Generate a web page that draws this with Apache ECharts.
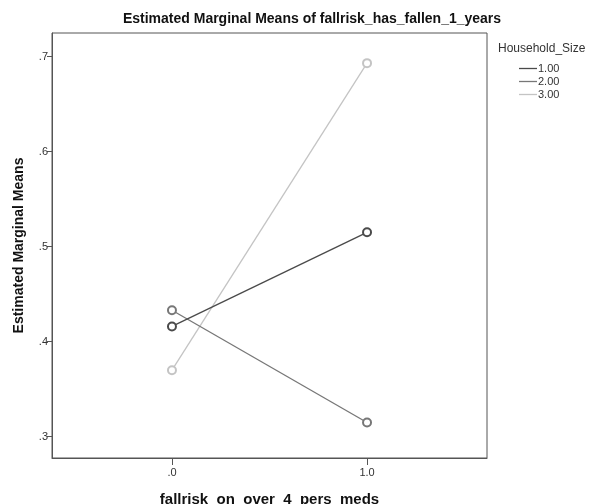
<!DOCTYPE html>
<html>
<head>
<meta charset="utf-8">
<script src="https://cdn.jsdelivr.net/npm/echarts@6/dist/echarts.min.js"></script>
<style>
  html, body { margin: 0; padding: 0; background: #fff; }
  #chart { width: 592px; height: 504px; }
</style>
</head>
<body>
<div id="chart"></div>
<script>
// Estimated marginal means by medication group and household size
const xValues = [0, 1];
const xTickLabels = ['.0', '1.0'];
const yTicks = [0.3, 0.4, 0.5, 0.6, 0.7];
const seriesNames = ['1.00', '2.00', '3.00'];
const size1 = [0.416, 0.515];
const size2 = [0.433, 0.315];
const size3 = [0.370, 0.693];
const seriesValues = [size1, size2, size3];
const seriesColors = ['#4a4a4a', '#777777', '#c4c4c4'];

const fontFamily = 'Liberation Sans, Arial, sans-serif';

const chart = echarts.init(document.getElementById('chart'), null, { renderer: 'canvas' });

const series = seriesNames.map((name, i) => ({
  name: name,
  type: 'line',
  data: xValues.map((x, j) => [x, seriesValues[i][j]]),
  symbol: 'emptyCircle',
  symbolSize: 8,
  showSymbol: true,
  lineStyle: { color: seriesColors[i], width: 1.3 },
  itemStyle: { color: seriesColors[i], borderColor: seriesColors[i], borderWidth: 1.1 },
  emphasis: { disabled: true },
  animation: false,
  z: 3 - i
}));

chart.setOption({
  animation: false,
  backgroundColor: '#ffffff',
  title: [
    {
      text: 'Estimated Marginal Means of fallrisk_has_fallen_1_years',
      left: 307, top: 7, textAlign: 'center',
      textStyle: { fontFamily, fontSize: 14, fontWeight: 'bold', color: '#111' }
    },
    {
      text: 'Household_Size',
      left: 493, top: 38,
      textStyle: { fontFamily, fontSize: 12, fontWeight: 'normal', color: '#333' }
    }
  ],
  legend: {
    orient: 'vertical',
    left: 514, top: 58,
    itemWidth: 18, itemHeight: 1.3,
    itemGap: 2,
    icon: 'rect',
    data: seriesNames,
    selectedMode: false,
    textStyle: { fontFamily, fontSize: 11, color: '#333', padding: [0, 0, 0, -4], lineHeight: 11 },
    itemStyle: { borderWidth: 0 }
  },
  grid: {
    left: 52, right: 105, top: 33, bottom: 46,
    outerBoundsMode: 'none',
    containLabel: false,
    show: true, borderColor: '#555', borderWidth: 1, backgroundColor: '#fff'
  },
  xAxis: {
    type: 'value',
    min: -0.615, max: 1.615,
    name: 'fallrisk_on_over_4_pers_meds',
    nameLocation: 'middle',
    nameGap: 34,
    nameTextStyle: { fontFamily, fontSize: 15, fontWeight: 'bold', color: '#111' },
    axisLine: { show: true, onZero: false, lineStyle: { color: '#555', width: 1 } },
    axisTick: { show: true, length: 7, customValues: xValues, lineStyle: { color: '#555' } },
    axisLabel: {
      customValues: xValues,
      fontFamily, fontSize: 11, color: '#333', margin: 9,
      formatter: v => xTickLabels[xValues.indexOf(v)] ?? ''
    },
    splitLine: { show: false }
  },
  yAxis: {
    type: 'value',
    min: 0.2776, max: 0.7247,
    name: 'Estimated Marginal Means',
    nameLocation: 'middle',
    nameGap: 26,
    nameTextStyle: { fontFamily, fontSize: 14, fontWeight: 'bold', color: '#111' },
    axisLine: { show: true, onZero: false, lineStyle: { color: '#555', width: 1 } },
    axisTick: { show: true, length: 5, customValues: yTicks, lineStyle: { color: '#555' } },
    axisLabel: {
      customValues: yTicks,
      fontFamily, fontSize: 11, color: '#333', margin: 4,
      formatter: v => v.toFixed(1).replace(/^0/, '')
    },
    splitLine: { show: false }
  },
  series: series
});
</script>
</body>
</html>
